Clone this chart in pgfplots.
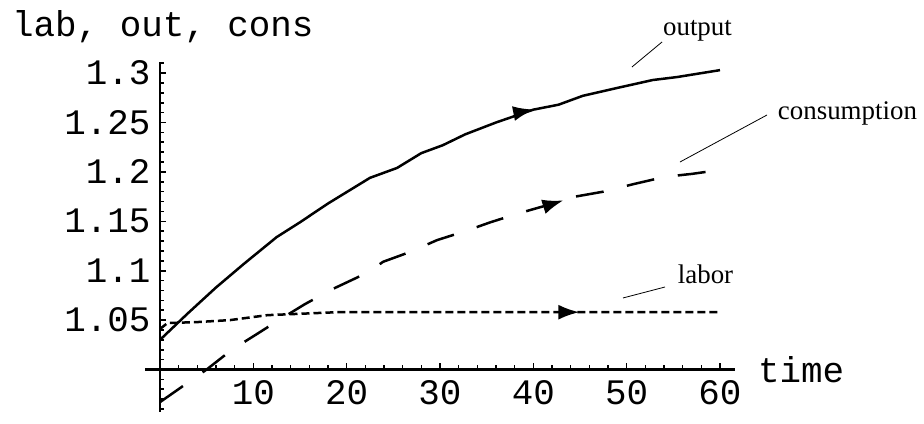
\documentclass[border=0pt]{standalone}
\usepackage{fontspec}
\setmainfont{Liberation Serif}
\setmonofont{Liberation Mono}
\usepackage{pgfplots}
\pgfplotsset{compat=1.18}
\usetikzlibrary{arrows.meta,decorations.markings}

\begin{document}
\begin{tikzpicture}
\begin{axis}[
    x=9.333bp, y=988bp,
    xmin=-1.6, xmax=61.6,
    ymin=0.957, ymax=1.311,
    axis lines=middle,
    axis line style={-, line width=2.2bp, black},
    axis x line shift=-42.5bp,
    xtick={10,20,30,40,50,60},
    minor xtick={2,4,6,8,12,14,16,18,22,24,26,28,32,34,36,38,42,44,46,48,52,54,56,58},
    ytick={1.05,1.1,1.15,1.2,1.25,1.3},
    minor ytick={0.96,0.97,0.98,0.99,1.01,1.02,1.03,1.04,1.06,1.07,1.08,1.09,1.11,1.12,1.13,1.14,1.16,1.17,1.18,1.19,1.21,1.22,1.23,1.24,1.26,1.27,1.28,1.29,1.31},
    tick align=inside,
    major tick length=6bp, minor tick length=4bp,
    tick style={line width=1.6bp, black},
    ticklabel style={font=\fontsize{36}{42}\selectfont\ttfamily},
    xticklabel style={yshift=-7bp},
    yticklabel style={xshift=-6bp},
    /pgf/number format/assume math mode=true,
    xlabel={time},
    ylabel={lab, out, cons},
    xlabel style={at={(axis cs:64.07,1.0)}, anchor=west, inner sep=0pt, font=\fontsize{36}{42}\selectfont\ttfamily},
    ylabel style={at={(axis cs:-15.86,1.3472)}, anchor=west, inner sep=0pt, rotate=0, font=\fontsize{36}{42}\selectfont\ttfamily},
    clip=false,
]

% output
\addplot[black, line width=2.5bp, postaction={decorate},
    decoration={markings, mark=at position 0.70 with {\arrow{Latex[length=21bp,width=15bp]}}}]
    coordinates {
    (0,1.030)(3,1.057)(6,1.083)(9,1.107)(12.5,1.134)(15,1.149)(18,1.168)
    (22.5,1.194)(25.4,1.204)(28,1.219)(30.3,1.227)(32.7,1.238)(36,1.250)
    (40,1.263)(42.7,1.268)(45.3,1.277)(49,1.285)(52.8,1.293)(55.4,1.296)(60,1.303)
    };

% consumption
\addplot[black, line width=2.5bp, dash pattern=on 28bp off 24bp, postaction={decorate},
    decoration={markings, mark=at position 0.74 with {\arrow{Latex[length=21bp,width=15bp]}}}]
    coordinates {
    (0,0.967)(5,1.0)(7.7,1.020)(10.4,1.036)(12.9,1.051)(15.5,1.066)(18.4,1.081)
    (21.1,1.093)(22.7,1.101)(23.9,1.109)(26.8,1.119)(29.7,1.131)(32.7,1.140)
    (35.4,1.149)(38.4,1.158)(42.5,1.169)(44.5,1.175)(47.5,1.180)(50.9,1.188)
    (54.1,1.195)(57,1.198)(60,1.202)
    };

% labor
\addplot[black, line width=2.5bp, dash pattern=on 8bp off 4bp, postaction={decorate},
    decoration={markings, mark=at position 0.75 with {\arrow{Latex[length=21bp,width=15bp]}}}]
    coordinates {
    (0,1.041)(0.8,1.047)(4,1.048)(7.5,1.050)(11.5,1.055)(19,1.058)(30,1.058)(45,1.058)(60,1.058)
    };

\node[inner sep=0pt, font=\fontsize{27}{31}\selectfont] at (axis cs:57.59,1.3431) {output};
\draw[line width=0.8bp] (axis cs:53.79,1.3315) -- (axis cs:50.57,1.3062);
\node[inner sep=0pt, font=\fontsize{27}{31}\selectfont] at (axis cs:73.66,1.2596) {consumption};
\draw[line width=0.8bp] (axis cs:65.04,1.2576) -- (axis cs:55.71,1.2100);
\node[inner sep=0pt, font=\fontsize{27}{31}\selectfont] at (axis cs:58.45,1.0967) {labor};
\draw[line width=0.8bp] (axis cs:54.11,1.0835) -- (axis cs:49.61,1.0724);

\coordinate (tl) at (axis cs:-17.143,1.37399);
\coordinate (br) at (axis cs:81.86,0.94585);
\end{axis}
\pgfresetboundingbox
\path[use as bounding box] (tl) rectangle (br);
\end{tikzpicture}
\end{document}
